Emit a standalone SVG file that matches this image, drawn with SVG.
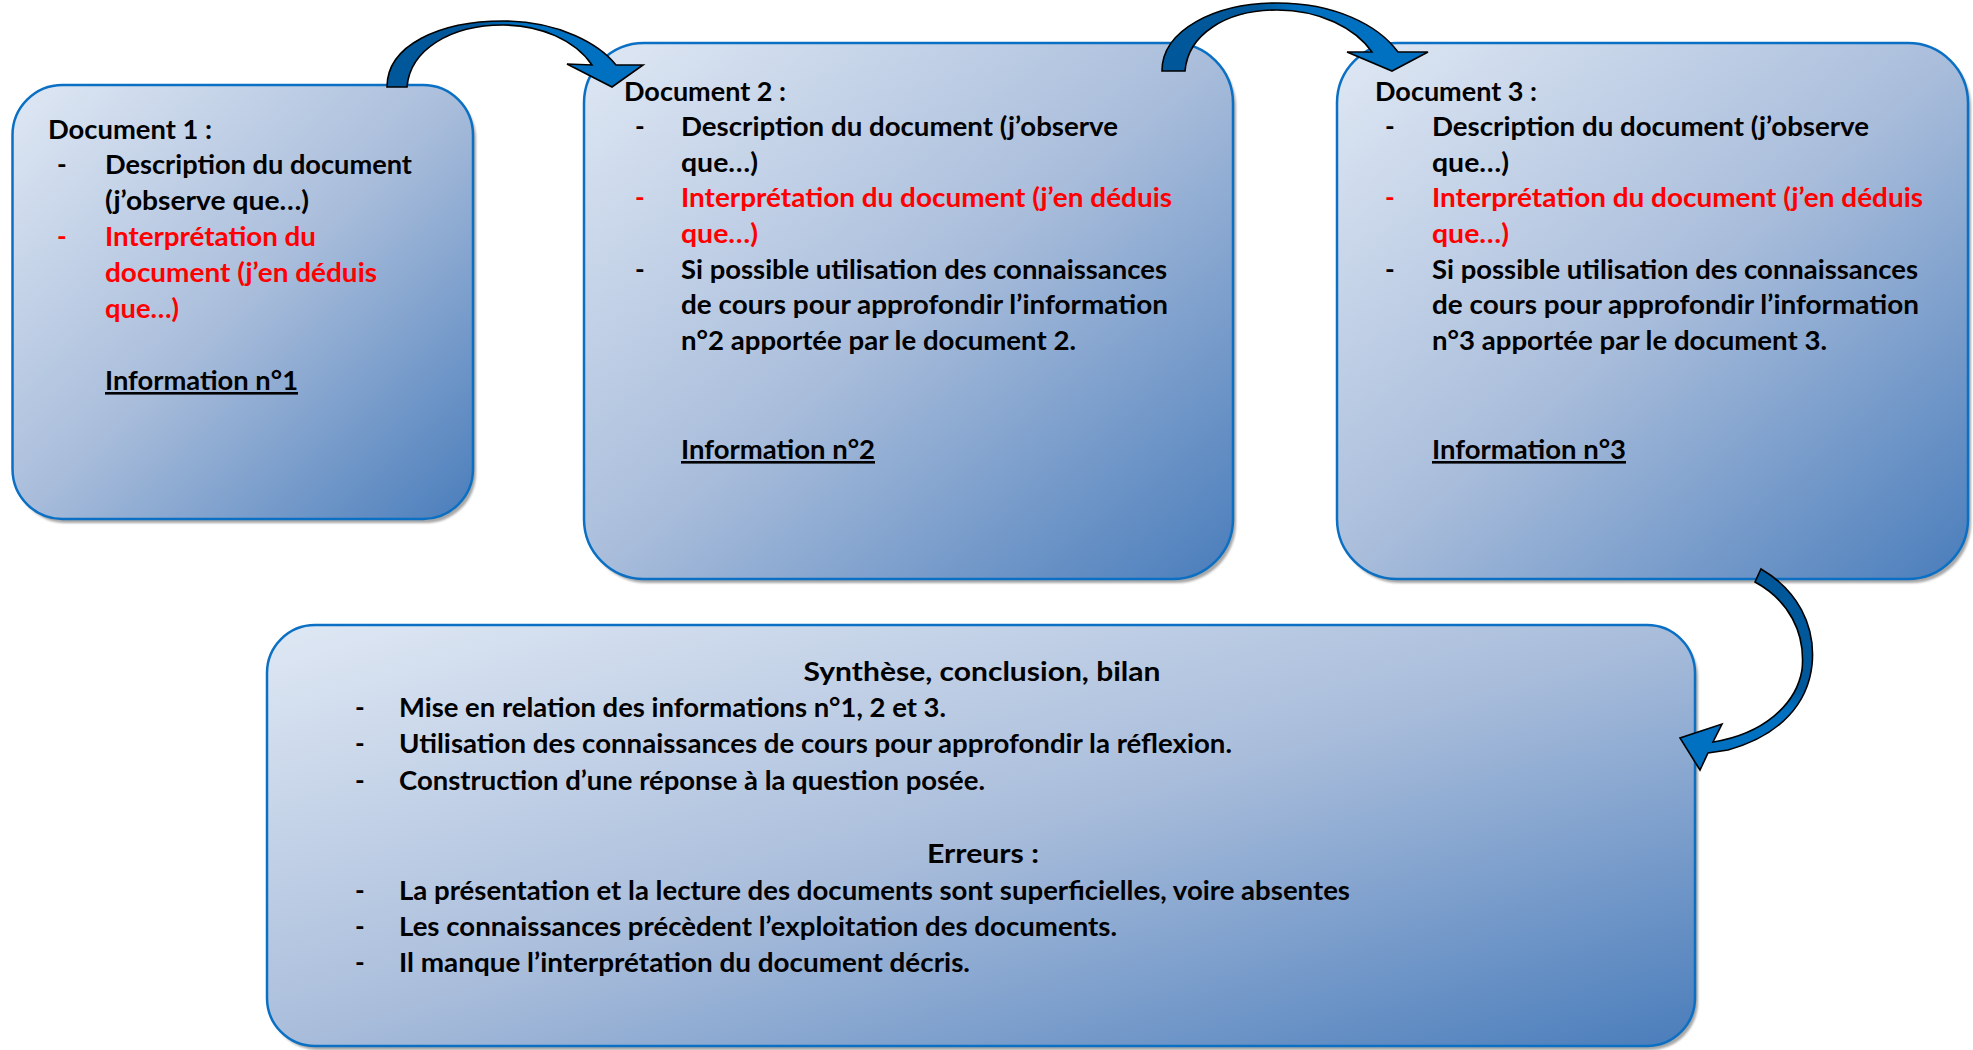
<svg xmlns="http://www.w3.org/2000/svg" width="1973" height="1050" viewBox="0 0 1973 1050">
<defs>
<linearGradient id="boxFill" x1="0" y1="0" x2="1" y2="1">
<stop offset="0" stop-color="#dfe8f4"/>
<stop offset="0.5" stop-color="#a9bddb"/>
<stop offset="1" stop-color="#4a7dbb"/>
</linearGradient>
<linearGradient id="arrowH" x1="0" y1="0" x2="1" y2="0">
<stop offset="0" stop-color="#00589a"/>
<stop offset="0.36" stop-color="#00589a"/>
<stop offset="0.5" stop-color="#0070c0"/>
<stop offset="1" stop-color="#0070c0"/>
</linearGradient>
<linearGradient id="arrowV" x1="0" y1="0" x2="0" y2="1">
<stop offset="0" stop-color="#00589a"/>
<stop offset="0.6" stop-color="#00589a"/>
<stop offset="0.7" stop-color="#0070c0"/>
<stop offset="1" stop-color="#0070c0"/>
</linearGradient>
<filter id="blur" x="-5%" y="-5%" width="110%" height="110%"><feGaussianBlur stdDeviation="1.2"/></filter>
</defs>
<style>
.box { fill: url(#boxFill); stroke: #0b70c4; stroke-width: 2.5; }
.shadow { fill: #8a8a8a; opacity: 0.75; filter: url(#blur); }
text { font-family: Lato, "Open Sans", "Liberation Sans", sans-serif; font-weight: 700; font-size: 26px; fill: #000; }
.red { fill: #ff0000; }
.u { text-decoration: underline; }
.mid { text-anchor: middle; }
.arrow { stroke: #000; stroke-width: 1.6; stroke-linejoin: miter; }
</style>
<rect width="1973" height="1050" fill="#ffffff"/>

<g id="doc1">
<rect class="shadow" x="15.5" y="89" width="460.5" height="434" rx="50"/>
<rect class="box" x="12.5" y="85" width="460.5" height="434" rx="50"/>
<text x="48" y="138.5" textLength="164" lengthAdjust="spacingAndGlyphs">Document 1 :</text>
<text x="57" y="174.3">-</text>
<text x="105" y="174.3" textLength="307" lengthAdjust="spacingAndGlyphs">Description du document</text>
<text x="105" y="210.1" textLength="204" lengthAdjust="spacingAndGlyphs">(j’observe que…)</text>
<text class="red" x="57" y="245.9">-</text>
<text class="red" x="105" y="245.9" textLength="211" lengthAdjust="spacingAndGlyphs">Interprétation du</text>
<text class="red" x="105" y="281.7" textLength="272" lengthAdjust="spacingAndGlyphs">document (j’en déduis</text>
<text class="red" x="105" y="317.5" textLength="74" lengthAdjust="spacingAndGlyphs">que…)</text>
<text class="u" x="105" y="390" textLength="193" lengthAdjust="spacingAndGlyphs">Information n°1</text>
</g>

<g id="doc2">
<rect class="shadow" x="587" y="47" width="649" height="536" rx="60"/>
<rect class="box" x="584" y="43" width="649" height="536" rx="60"/>
<text x="624" y="100.5" textLength="162" lengthAdjust="spacingAndGlyphs">Document 2 :</text>
<text x="635" y="136.1">-</text>
<text x="681" y="136.1" textLength="437" lengthAdjust="spacingAndGlyphs">Description du document (j’observe</text>
<text x="681" y="171.7" textLength="77" lengthAdjust="spacingAndGlyphs">que…)</text>
<text class="red" x="635" y="207.3">-</text>
<text class="red" x="681" y="207.3" textLength="491" lengthAdjust="spacingAndGlyphs">Interprétation du document (j’en déduis</text>
<text class="red" x="681" y="242.9" textLength="77" lengthAdjust="spacingAndGlyphs">que…)</text>
<text x="635" y="278.5">-</text>
<text x="681" y="278.5" textLength="486" lengthAdjust="spacingAndGlyphs">Si possible utilisation des connaissances</text>
<text x="681" y="314.1" textLength="487" lengthAdjust="spacingAndGlyphs">de cours pour approfondir l’information</text>
<text x="681" y="349.7" textLength="395" lengthAdjust="spacingAndGlyphs">n°2 apportée par le document 2.</text>
<text class="u" x="681" y="459" textLength="194" lengthAdjust="spacingAndGlyphs">Information n°2</text>
</g>

<g id="doc3">
<rect class="shadow" x="1340" y="47" width="631" height="536" rx="60"/>
<rect class="box" x="1337" y="43" width="631" height="536" rx="60"/>
<text x="1375" y="100.5" textLength="162" lengthAdjust="spacingAndGlyphs">Document 3 :</text>
<text x="1385" y="136.1">-</text>
<text x="1432" y="136.1" textLength="437" lengthAdjust="spacingAndGlyphs">Description du document (j’observe</text>
<text x="1432" y="171.7" textLength="77" lengthAdjust="spacingAndGlyphs">que…)</text>
<text class="red" x="1385" y="207.3">-</text>
<text class="red" x="1432" y="207.3" textLength="491" lengthAdjust="spacingAndGlyphs">Interprétation du document (j’en déduis</text>
<text class="red" x="1432" y="242.9" textLength="77" lengthAdjust="spacingAndGlyphs">que…)</text>
<text x="1385" y="278.5">-</text>
<text x="1432" y="278.5" textLength="486" lengthAdjust="spacingAndGlyphs">Si possible utilisation des connaissances</text>
<text x="1432" y="314.1" textLength="487" lengthAdjust="spacingAndGlyphs">de cours pour approfondir l’information</text>
<text x="1432" y="349.7" textLength="395" lengthAdjust="spacingAndGlyphs">n°3 apportée par le document 3.</text>
<text class="u" x="1432" y="459" textLength="194" lengthAdjust="spacingAndGlyphs">Information n°3</text>
</g>

<g id="synthese">
<rect class="shadow" x="270" y="629" width="1428" height="421" rx="48"/>
<rect class="box" x="267" y="625" width="1428" height="421" rx="48"/>
<text class="mid" x="982" y="681" textLength="357" lengthAdjust="spacingAndGlyphs">Synthèse, conclusion, bilan</text>
<text x="355" y="716.6">-</text>
<text x="399" y="716.6" textLength="547" lengthAdjust="spacingAndGlyphs">Mise en relation des informations n°1, 2 et 3.</text>
<text x="355" y="753">-</text>
<text x="399" y="753" textLength="833" lengthAdjust="spacingAndGlyphs">Utilisation des connaissances de cours pour approfondir la réflexion.</text>
<text x="355" y="789.6">-</text>
<text x="399" y="789.6" textLength="586" lengthAdjust="spacingAndGlyphs">Construction d’une réponse à la question posée.</text>
<text class="mid" x="983" y="862.5" textLength="112" lengthAdjust="spacingAndGlyphs">Erreurs :</text>
<text x="355" y="900">-</text>
<text x="399" y="900" textLength="951" lengthAdjust="spacingAndGlyphs">La présentation et la lecture des documents sont superficielles, voire absentes</text>
<text x="355" y="935.5">-</text>
<text x="399" y="935.5" textLength="718" lengthAdjust="spacingAndGlyphs">Les connaissances précèdent l’exploitation des documents.</text>
<text x="355" y="972">-</text>
<text x="399" y="972" textLength="571" lengthAdjust="spacingAndGlyphs">Il manque l’interprétation du document décris.</text>
</g>

<g id="connectors">
<path id="arrow-1-2" class="arrow" fill="url(#arrowH)" d="M387,87 C387,45 440,21 503,21 C560,21 600,45 616,65 L643,65 L612,87 L567,64 L592,65 C575,40 540,25 503,25 C450,25 410,50 407,87 Z"/>
<path id="arrow-2-3" class="arrow" fill="url(#arrowH)" d="M1162,71 C1162,30 1215,3 1277,3 C1335,3 1378,25 1398,52 L1428,52 L1392,71 L1347,52 L1372,52 C1355,28 1320,10 1277,10 C1225,10 1188,35 1185,71 Z"/>
<path id="arrow-3-4" class="arrow" fill="url(#arrowV)" d="M1755,582 L1761,569 C1797,590 1816,625 1812,665 C1808,702 1782,735 1728,750 L1708,753 L1700,770 L1680,738 L1722,724 L1713,742 C1763,734 1796,705 1802,670 C1806,632 1788,600 1755,582 Z"/>
</g>
</svg>
